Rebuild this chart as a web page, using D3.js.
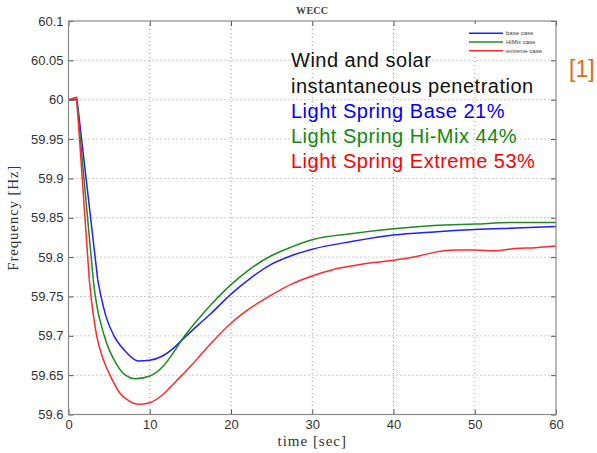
<!DOCTYPE html>
<html>
<head>
<meta charset="utf-8">
<script src="https://cdn.jsdelivr.net/npm/d3@7/dist/d3.min.js"></script>
<style>
  html, body { margin: 0; padding: 0; background: #fff; }
  svg { display: block; }
</style>
</head>
<body>
<svg id="chart" width="597" height="453"></svg>
<script>
// Frequency response after a generation trip, three penetration cases
const baseTime = [0, 1.05, 3.6, 4.0, 4.6, 5.6, 6.95, 8.6, 10, 11.5, 13, 14.3, 16.2, 17.5, 20, 22.5, 25, 27.5, 30, 35, 40, 45, 50, 55, 60];
const baseFreq = [60.0, 60.0, 59.771, 59.75, 59.725, 59.70, 59.681, 59.668, 59.669, 59.674, 59.685, 59.698, 59.716, 59.728, 59.753, 59.774, 59.791, 59.802, 59.810, 59.820, 59.828, 59.832, 59.835, 59.837, 59.839];

const himixTime = [0, 1.0, 3.05, 3.3, 4.4, 5.9, 7.0, 8.2, 10, 11.7, 13, 14.3, 16.2, 17.5, 20, 22.5, 25, 27.5, 30, 35, 40, 45, 50, 55, 60];
const himixFreq = [60.0, 60.001, 59.771, 59.75, 59.70, 59.664, 59.650, 59.6455, 59.649, 59.662, 59.680, 59.700, 59.724, 59.739, 59.765, 59.786, 59.802, 59.813, 59.822, 59.830, 59.836, 59.840, 59.842, 59.844, 59.844];

const extremeTime = [0, 1.0, 2.56, 2.77, 3.47, 4.2, 5.1, 6.34, 7.5, 8.6, 10, 11.7, 13.3, 15, 16.2, 17.5, 20, 22.5, 25, 27.5, 30, 32.5, 35, 37.5, 40, 42.5, 45, 47.5, 50, 52.5, 55, 57.5, 60];
const extremeFreq = [60.0, 60.003, 59.771, 59.75, 59.70, 59.672, 59.65, 59.627, 59.617, 59.613, 59.615, 59.626, 59.643, 59.661, 59.675, 59.690, 59.716, 59.736, 59.752, 59.766, 59.776, 59.784, 59.789, 59.793, 59.796, 59.800, 59.806, 59.809, 59.809, 59.808, 59.811, 59.812, 59.814];

const xTicks = [0, 10, 20, 30, 40, 50, 60];
const yTicks = [59.6, 59.65, 59.7, 59.75, 59.8, 59.85, 59.9, 59.95, 60, 60.05, 60.1];

const legendLabels = ["base case", "HiMix case", "extreme case"];
const noteLines = ["Wind and solar", "instantaneous penetration"];
const caseNotes = ["Light Spring Base 21%", "Light Spring Hi-Mix 44%", "Light Spring Extreme 53%"];

const series = [
  { name: legendLabels[0], t: baseTime, f: baseFreq, color: "#1f1fff", text: "#0000ff" },
  { name: legendLabels[1], t: himixTime, f: himixFreq, color: "#1e8c1e", text: "#108a10" },
  { name: legendLabels[2], t: extremeTime, f: extremeFreq, color: "#ff2a2a", text: "#ff0000" }
];

const svg = d3.select("#chart");
const m = { left: 68.5, right: 556, top: 21, bottom: 414.5 };

const x = d3.scaleLinear().domain([0, 60]).range([m.left, m.right]);
const y = d3.scaleLinear().domain([59.6, 60.1]).range([m.bottom, m.top]);

const fmtY = d => String(+d.toFixed(2));

// dotted grid
const grid = svg.append("g");
grid.selectAll("line.vx").data(xTicks.slice(1, -1)).join("line")
  .attr("x1", d => x(d)).attr("x2", d => x(d))
  .attr("y1", m.top).attr("y2", m.bottom);
grid.selectAll("line.hy").data(yTicks.slice(1, -1)).join("line")
  .attr("x1", m.left).attr("x2", m.right)
  .attr("y1", d => y(d)).attr("y2", d => y(d));
grid.selectAll("line")
  .attr("stroke", "#9a9a9a").attr("stroke-width", 1)
  .attr("stroke-dasharray", "1,3");

// curves: the step at the trip is straight, the recovery is smooth
const straight = d3.line().x(d => x(d[0])).y(d => y(d[1])).curve(d3.curveLinear);
const smooth = d3.line().x(d => x(d[0])).y(d => y(d[1])).curve(d3.curveMonotoneX);

svg.append("g").selectAll("path").data(series).join("path")
  .attr("fill", "none")
  .attr("stroke", d => d.color)
  .attr("stroke-width", 1.5)
  .attr("stroke-linejoin", "round")
  .attr("d", d => {
    const pts = d.t.map((t, i) => [t, d.f[i]]);
    return straight(pts.slice(0, 3)) + smooth(pts.slice(2));
  });

// axes with inward ticks
const tickLen = 5;
const axStyle = g => {
  g.select(".domain").remove();
  g.selectAll(".tick line").attr("stroke", "#555");
  g.selectAll(".tick text").attr("fill", "#333")
    .style("font-family", "'Liberation Sans', Arial, sans-serif")
    .style("font-size", "13px");
};

svg.append("g").attr("transform", `translate(0,${m.bottom})`)
  .call(d3.axisBottom(x).tickValues(xTicks).tickSizeInner(-tickLen).tickSizeOuter(0).tickPadding(5))
  .call(axStyle);
svg.append("g").attr("transform", `translate(0,${m.top})`)
  .call(d3.axisTop(x).tickValues(xTicks).tickSizeInner(-tickLen).tickSizeOuter(0).tickFormat(""))
  .call(axStyle);
svg.append("g").attr("transform", `translate(${m.left},0)`)
  .call(d3.axisLeft(y).tickValues(yTicks).tickFormat(fmtY).tickSizeInner(-tickLen).tickSizeOuter(0).tickPadding(5))
  .call(axStyle);
svg.append("g").attr("transform", `translate(${m.right},0)`)
  .call(d3.axisRight(y).tickValues(yTicks).tickSizeInner(-tickLen).tickSizeOuter(0).tickFormat(""))
  .call(axStyle);

// frame
svg.append("rect")
  .attr("x", m.left).attr("y", m.top)
  .attr("width", m.right - m.left).attr("height", m.bottom - m.top)
  .attr("fill", "none").attr("stroke", "#8a8a8a").attr("stroke-width", 1.2);

// legend
const lg = svg.append("g");
lg.append("rect").attr("x", 464).attr("y", 24).attr("width", 89).attr("height", 32)
  .attr("fill", "#fff");
series.forEach((s, i) => {
  const yy = 33.3 + i * 8.7;
  lg.append("line").attr("x1", 469).attr("x2", 503).attr("y1", yy).attr("y2", yy)
    .attr("stroke", s.color).attr("stroke-width", 1.5);
  lg.append("text").attr("x", 506).attr("y", yy + 2)
    .attr("fill", "#444")
    .style("font-family", "'Liberation Sans', Arial, sans-serif")
    .style("font-size", "6px")
    .text(s.name);
});

// titles
svg.append("text").attr("x", (m.left + m.right) / 2).attr("y", 14)
  .attr("text-anchor", "middle").attr("fill", "#444")
  .style("font-family", "'Liberation Serif', 'DejaVu Serif', serif")
  .style("font-size", "10px").style("font-weight", "bold").style("letter-spacing", "0.3px")
  .text("WECC");

svg.append("text").attr("x", (m.left + m.right) / 2).attr("y", 446)
  .attr("text-anchor", "middle").attr("fill", "#333")
  .style("font-family", "'Liberation Serif', 'DejaVu Serif', serif")
  .style("font-size", "15px").style("letter-spacing", "1px")
  .text("time [sec]");

svg.append("text")
  .attr("transform", `translate(18,${(m.top + m.bottom) / 2}) rotate(-90)`)
  .attr("text-anchor", "middle").attr("fill", "#333")
  .style("font-family", "'Liberation Serif', 'DejaVu Serif', serif")
  .style("font-size", "15px").style("letter-spacing", "0.8px")
  .text("Frequency [Hz]");

// annotation
const note = svg.append("g")
  .style("font-family", "'Liberation Sans', Arial, sans-serif")
  .style("font-size", "20px")
  .style("letter-spacing", "0.5px");
noteLines.forEach((t, i) => {
  note.append("text").attr("x", 291).attr("y", 67 + i * 26).attr("fill", "#111").text(t);
});
series.forEach((s, i) => {
  note.append("text").attr("x", 291).attr("y", 118 + i * 25).attr("fill", s.text).text(caseNotes[i]);
});

svg.append("text").attr("x", 569).attr("y", 77)
  .attr("fill", "#e46c0a")
  .style("font-family", "'Liberation Sans', Arial, sans-serif")
  .style("font-size", "23px")
  .text("[1]");
</script>
</body>
</html>
